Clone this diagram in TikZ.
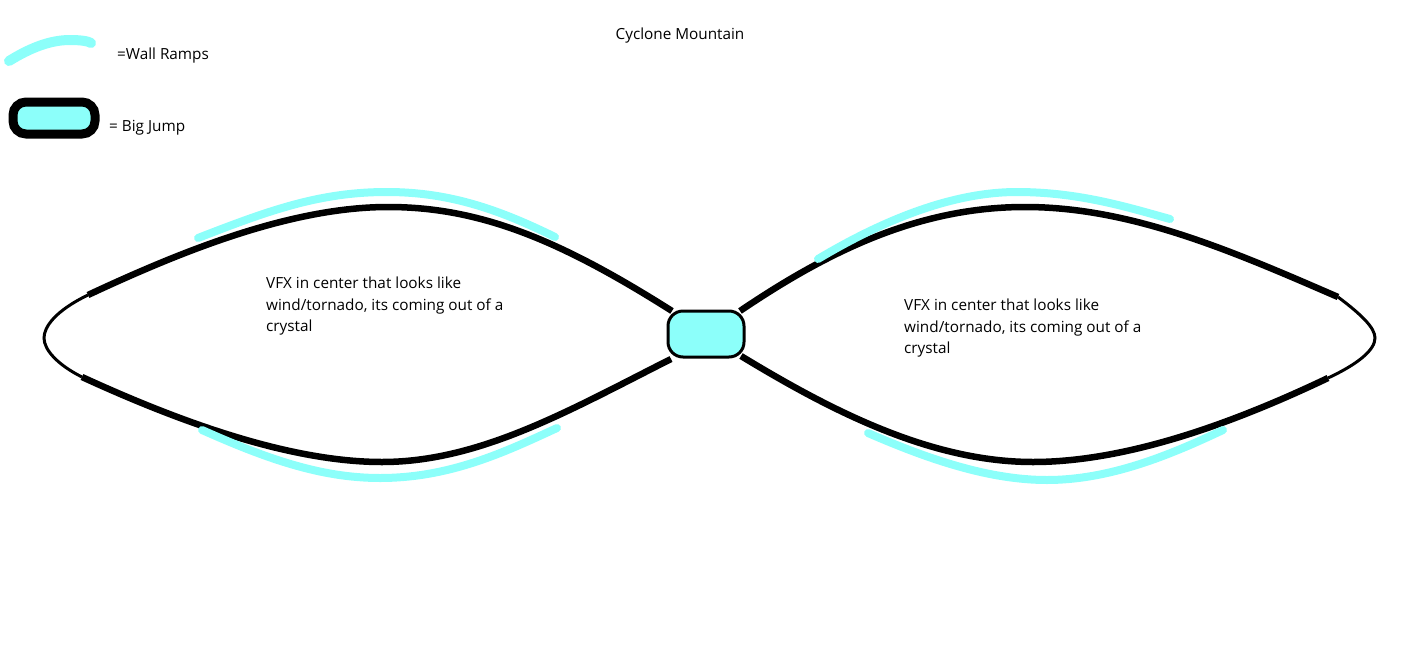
\documentclass[tikz,border=0pt]{standalone}
\usepackage{fontspec}
\setmainfont{Open Sans}
\definecolor{rampcyan}{RGB}{140,255,250}
\begin{document}
\begin{tikzpicture}[x=1pt,y=-1pt,
  track/.style={line width=6.5pt,black},
  tip/.style={line width=3pt,black},
  wallramp/.style={line width=8pt,rampcyan,line cap=round},
  jump/.style={draw=black,line width=3pt,fill=rampcyan,rounded corners=15pt,minimum width=76pt,minimum height=46pt,inner sep=0pt},
  lbl/.style={font=\fontsize{15.3}{21.5}\selectfont,align=left,inner sep=0pt}]
\useasboundingbox (0,0) rectangle (1416,664);
% legend
\draw[wallramp,line width=10pt] (9,61) .. controls (30,48) and (50,40) .. (70,40) .. controls (80,40) and (88,41) .. (91,43);
\node[lbl,anchor=west] (lwall) at (117,55.5) {=Wall Ramps};
\node[draw=black,line width=9pt,fill=rampcyan,rounded corners=13pt,minimum width=82pt,minimum height=32pt,inner sep=0pt] (ljump) at (54,118) {};
\node[lbl,anchor=west] (lbig) at (109,128) {= Big Jump};
\node[lbl] (title) at (680,35.5) {Cyclone Mountain};
% left loop
\coordinate (a1) at (672,311);
\coordinate (a2) at (88,295);
\coordinate (a3) at (82,377);
\coordinate (a4) at (671,359);
\draw[track] (a1) .. controls (560,240) and (480,207) .. (388,207) .. controls (290,207) and (180,252) .. (a2);
\draw[tip] (a2) .. controls (55,311) and (44,327) .. (44,338) .. controls (44,350) and (58,365) .. (a3);
\draw[track] (a3) .. controls (180,422) and (290,462) .. (382,462) .. controls (480,462) and (570,410) .. (a4);
% right loop
\coordinate (b1) at (740,311);
\coordinate (b2) at (1338,297);
\coordinate (b3) at (1328,378);
\coordinate (b4) at (741,356);
\draw[track] (b1) .. controls (830,250) and (920,207) .. (1025,207) .. controls (1130,207) and (1230,250) .. (b2);
\draw[tip] (b2) .. controls (1362,315) and (1375,328) .. (1375,338) .. controls (1375,350) and (1358,364) .. (b3);
\draw[track] (b3) .. controls (1240,420) and (1130,462) .. (1033,462) .. controls (930,462) and (830,410) .. (b4);
% wall ramps
\draw[wallramp] (198,238) .. controls (270,210) and (320,192) .. (387,192) .. controls (450,192) and (500,210) .. (555,237);
\draw[wallramp] (202,430) .. controls (265,458) and (320,478) .. (380,478) .. controls (450,478) and (505,452) .. (557,428);
\draw[wallramp] (818,259) .. controls (880,222) and (950,192) .. (1017,192) .. controls (1080,192) and (1130,208) .. (1170,219);
\draw[wallramp] (868,433) .. controls (930,460) and (990,480) .. (1047,480) .. controls (1110,480) and (1170,455) .. (1223,430);
% center jump
\node[jump] (J) at (706,334) {};
% texts
\node[lbl,anchor=north west] (t1) at (266,277) {VFX in center that looks like\\wind/tornado, its coming out of a\\crystal};
\node[lbl,anchor=north west] (t2) at (904,299) {VFX in center that looks like\\wind/tornado, its coming out of a\\crystal};
\end{tikzpicture}
\end{document}
